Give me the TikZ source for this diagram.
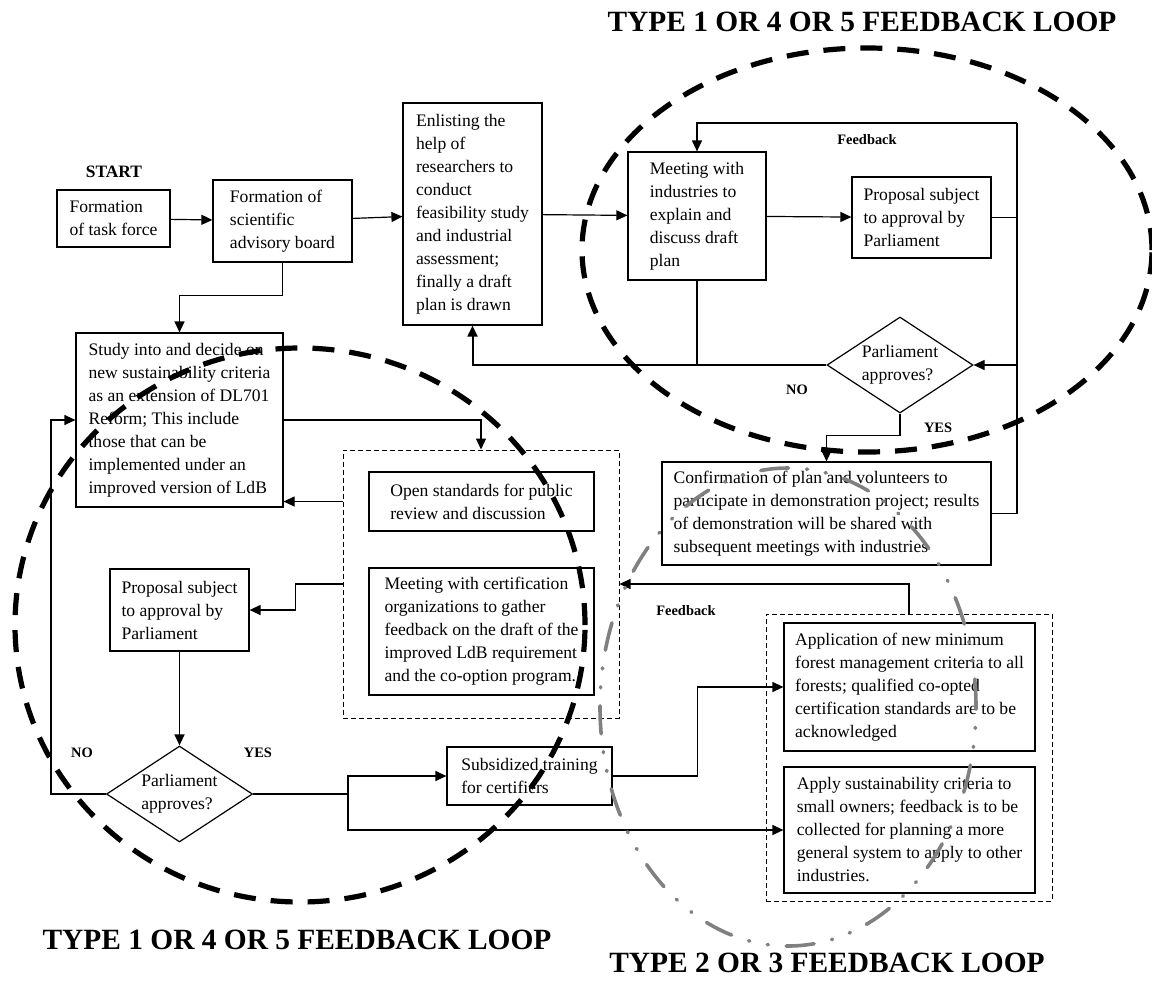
\documentclass[tikz,border=0pt]{standalone}
\usepackage{fontspec}
\setmainfont{Liberation Serif}
\usetikzlibrary{arrows.meta}
\usetikzlibrary{shapes.geometric,positioning}

\begin{document}
\begin{tikzpicture}[x=0.5pt,y=-0.5pt]
  \tikzset{box/.style = {shape=rectangle,draw,line width=0.6pt,align=left,inner sep=2pt,font=\fontsize{8.8}{11.5}\selectfont}}
  \tikzset{dbox/.style = {shape=rectangle,draw,line width=0.5pt,dash pattern=on 2.5pt off 1.5pt}}
  \tikzset{dia/.style = {shape=diamond,draw,line width=0.6pt,align=left,inner sep=0pt,aspect=1.5,minimum width=73pt,minimum height=48pt,font=\fontsize{8.8}{11.5}\selectfont}}
  \tikzset{lbl/.style = {font=\fontsize{7.2}{8}\selectfont\bfseries}}
  \tikzset{title/.style = {font=\fontsize{14.7}{16}\selectfont\bfseries}}
  \tikzset{edge/.style = {line width=0.6pt}}
  \tikzset{%
  tipA/.tip={Triangle[length=5.5pt,width=5pt]},
}
  \tikzset{loopA/.style = {line width=2.6pt,dash pattern=on 11pt off 7.5pt}}
  \tikzset{loopB/.style = {draw=black!50,line width=1.8pt,line cap=round,dash pattern=on 14pt off 9pt on 0.5pt off 9pt on 0.5pt off 9pt}}

  \useasboundingbox (0,0) rectangle (1152,992);

	% first round: board, study and talks with industry
	\node[lbl,font=\fontsize{8.7}{9}\selectfont\bfseries] (start) at (114,172) {START};
	\node[box,minimum width=56.5pt,minimum height=28.5pt] (TF) at (113.5,218.5) {Formation\\of task force};
	\node[box,minimum width=69.5pt,minimum height=41pt] (SB) at (282.5,221) {Formation of\\scientific\\advisory board};
	\node[box,minimum width=69.5pt,minimum height=111pt] (RS) at (472.5,214) {Enlisting the\\help of\\researchers to\\conduct\\feasibility study\\and industrial\\assessment;\\finally a draft\\plan is drawn};
	\node[box,minimum width=69pt,minimum height=64pt] (MI) at (697,216) {Meeting with\\industries to\\explain and\\discuss draft\\plan};
	\node[box,minimum width=69.5pt,minimum height=40.5pt] (PA) at (921.5,217.5) {Proposal subject\\to approval by\\Parliament};
	\node[dia] (AQ) at (900,365) {Parliament\\approves?};
	\node[box,minimum width=164.5pt,minimum height=51.5pt] (CD) at (826.5,513.5) {Confirmation of plan and volunteers to\\participate in demonstration project; results\\of demonstration will be shared with\\subsequent meetings with industries};
	\coordinate (rt) at (1017,123);

	% second round: criteria, certifiers and owners
	\node[box,minimum width=103.5pt,minimum height=87pt] (SC) at (179.5,420) {Study into and decide on\\new sustainability criteria\\as an extension of DL701\\Reform; This include\\those that can be\\implemented under an\\improved version of LdB};
	\node[dbox,minimum width=138pt,minimum height=134pt] (CG) at (481,584) {};
	\node[box,minimum width=112.5pt,minimum height=29.5pt] (OS) at (481.5,501.5) {Open standards for public\\review and discussion};
	\node[box,minimum width=112.5pt,minimum height=63.5pt] (MC) at (481.5,631.5) {Meeting with certification\\organizations to gather\\feedback on the draft of the\\improved LdB requirement\\and the co-option program.};
	\node[box,minimum width=69.5pt,minimum height=41pt] (PB) at (179.5,610) {Proposal subject\\to approval by\\Parliament};
	\node[dia] (PQ) at (179.5,794) {Parliament\\approves?};
	\node[box,minimum width=82.5pt,minimum height=29pt] (ST) at (529.5,776) {Subsidized training\\for certifiers};
	\node[dbox,minimum width=143pt,minimum height=143.5pt] (RG) at (909,757.5) {};
	\node[box,minimum width=125.5pt,minimum height=64pt] (AM) at (909.5,687) {Application of new minimum\\forest management criteria to all\\forests; qualified co-opted\\certification standards are to be\\acknowledged};
	\node[box,minimum width=125.5pt,minimum height=63pt] (AS) at (909.5,830) {Apply sustainability criteria to\\small owners; feedback is to be\\collected for planning a more\\general system to apply to other\\industries.};
	\coordinate (fork) at (348,794);

	\node[lbl] (fb1) at (867,140) {Feedback};
	\node[lbl] (fb2) at (686,611) {Feedback};
	\node[lbl] (no1) at (797,390) {NO};
	\node[lbl] (yes1) at (938,428) {YES};
	\node[lbl] (no2) at (82,753) {NO};
	\node[lbl] (yes2) at (258,753) {YES};

    \foreach \from/\to in {TF/SB, SB/RS, RS/MI, MI/PA, PB/PQ}
    \path[-tipA,edge](\from) edge (\to);

	\draw[edge,-tipA] (SB.south) -- ++(0,33) -| (SC.north);
	\draw[edge] (PA.east) -- (PA.east -| rt);
	\draw[edge] (CD.east) -| (rt);
	\draw[edge,-tipA] (rt) -| (MI.north);
	\draw[edge,-tipA] (AQ.east -| rt) -- (AQ.east);
	\draw[edge] (AQ.west) -- (MI.south |- AQ.west);
	\draw[edge] (MI.south) -- (MI.south |- AQ.west);
	\draw[edge,line width=1pt,-tipA] (MI.south |- AQ.west) -| (RS.south);
	\draw[edge,-tipA] (AQ.south) -- ++(0,22) -| (CD.north);

	\draw[edge,-tipA] (SC.east) -| (CG.north);
	\draw[edge,-tipA] (CG.west |- OS) -- (SC.east |- OS);
	\draw[edge,-tipA] (CG.west) -- ++(-47,0) |- (PB.east);
	\draw[edge,-tipA] (PQ.west) -- ++(-55,0) |- (SC.west);
	\draw[edge] (PQ.east) -- (fork);
	\draw[edge,-tipA] (fork) |- (ST.west);
	\draw[edge,-tipA] (fork) |- (AS.west);
	\draw[edge,-tipA] (ST.east) -- ++(85,0) |- (AM.west);
	\draw[edge,-tipA] (RG.north) |- (CG.east);

	% feedback loops
	\draw[loopA] (867,250) ellipse (142.5pt and 101pt);
	\draw[loopA] (300,625) ellipse (142.5pt and 138.5pt);
	\draw[loopB] (788,707) ellipse (94pt and 119.5pt);

	\node[title] (t1) at (862,22) {TYPE 1 OR 4 OR 5 FEEDBACK LOOP};
	\node[title] (t2) at (297,940) {TYPE 1 OR 4 OR 5 FEEDBACK LOOP};
	\node[title] (t3) at (827,963) {TYPE 2 OR 3 FEEDBACK LOOP};

\end{tikzpicture}
\end{document}
